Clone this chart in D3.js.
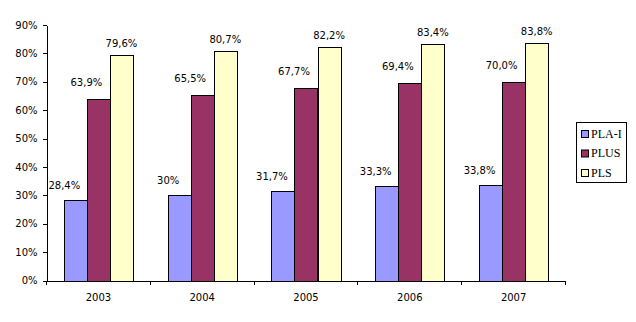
<!DOCTYPE html>
<html><head><meta charset="utf-8">
<script src="https://cdn.jsdelivr.net/npm/d3@7"></script>
<style>
html,body{margin:0;padding:0;background:#fff;}
svg{display:block;}
</style></head>
<body>
<svg id="chart" width="636" height="322"></svg>
<script>
const categories = ["2003", "2004", "2005", "2006", "2007"];
const seriesNames = ["PLA-I", "PLUS", "PLS"];
const plaI = [0.284, 0.300, 0.317, 0.333, 0.338];
const plus = [0.639, 0.655, 0.677, 0.694, 0.700];
const pls = [0.796, 0.807, 0.822, 0.834, 0.838];
const labelsPlaI = ["28,4%", "30%", "31,7%", "33,3%", "33,8%"];
const labelsPlus = ["63,9%", "65,5%", "67,7%", "69,4%", "70,0%"];
const labelsPls = ["79,6%", "80,7%", "82,2%", "83,4%", "83,8%"];
const yTicks = [0, 0.1, 0.2, 0.3, 0.4, 0.5, 0.6, 0.7, 0.8, 0.9];
const colors = ["#9999FF", "#993366", "#FFFFCC"];

(function () {
const seriesValues = [plaI, plus, pls];
const seriesLabels = [labelsPlaI, labelsPlus, labelsPls];
const labelShift = [{dx: -11, dy: 11}, {dx: -12, dy: 13}, {dx: 0, dy: 8}];

const svg = d3.select("#chart");
const mLeft = 46.5, mRight = 565.5, mTop = 25, mBottom = 280.5;

const x = d3.scaleBand().domain(categories).range([mLeft, mRight]).padding(0);
const x1 = d3.scaleBand().domain(seriesNames).range([0, x.bandwidth()]).paddingInner(0).paddingOuter(0.75);
const y = d3.scaleLinear().domain([0, 0.9]).range([mBottom, mTop]);

const font = "'DejaVu Sans', Verdana, sans-serif";

seriesNames.forEach((s, si) => {
  const g = svg.append("g");
  g.selectAll("rect").data(categories).join("rect")
    .attr("x", c => Math.round(x(c) + x1(s)) + 0.5)
    .attr("y", (c, i) => Math.round(y(seriesValues[si][i])) + 0.5)
    .attr("width", Math.round(x1.bandwidth()))
    .attr("height", (c, i) => Math.round(mBottom) - Math.round(y(seriesValues[si][i])))
    .attr("fill", colors[si])
    .attr("stroke", "#000")
    .attr("stroke-width", 1);
  g.selectAll("text").data(categories).join("text")
    .attr("x", c => x(c) + x1(s) + x1.bandwidth() / 2 + labelShift[si].dx)
    .attr("y", (c, i) => y(seriesValues[si][i]) - labelShift[si].dy)
    .attr("text-anchor", "middle")
    .attr("font-family", font)
    .attr("font-size", "10px")
    .attr("fill", "#000")
    .text((c, i) => seriesLabels[si][i]);
});

const yAxis = d3.axisLeft(y).tickValues(yTicks).tickFormat(d3.format(".0%")).tickSize(4).tickPadding(5).tickSizeOuter(0);
const gy = svg.append("g").attr("transform", `translate(${mLeft},0)`).call(yAxis);
gy.selectAll("text").attr("font-family", font).attr("font-size", "10px").attr("fill", "#000");
gy.selectAll("line,path").attr("stroke", "#000").attr("shape-rendering", "crispEdges");

const xAxis = d3.axisBottom(x).tickSize(0).tickPadding(13).tickSizeOuter(0);
const gx = svg.append("g").attr("transform", `translate(0,${mBottom})`).call(xAxis);
gx.selectAll("text").attr("font-family", font).attr("font-size", "10px").attr("fill", "#000");
gx.select("path").attr("stroke", "#000").attr("shape-rendering", "crispEdges");
const boundaries = categories.map(c => x(c)).concat([x.range()[1]]);
gx.selectAll("line.sep").data(boundaries).join("line")
  .attr("class", "sep")
  .attr("x1", d => d).attr("x2", d => d)
  .attr("y1", 0).attr("y2", 4)
  .attr("stroke", "#000").attr("shape-rendering", "crispEdges");

const lg = svg.append("g").attr("transform", "translate(576.5,122.5)");
lg.append("rect").attr("width", 50).attr("height", 60).attr("fill", "#fff").attr("stroke", "#000");
seriesNames.forEach((s, i) => {
  const yy = 15 + i * 19.5;
  lg.append("rect").attr("x", 5).attr("y", yy - 7).attr("width", 7).attr("height", 7)
    .attr("fill", colors[i]).attr("stroke", "#000").attr("stroke-width", 1);
  lg.append("text").attr("x", 14.5).attr("y", yy).attr("font-family", "'Liberation Serif', 'Times New Roman', serif")
    .attr("font-size", "12px").attr("fill", "#000").text(s);
});
})();
</script>
</body></html>
